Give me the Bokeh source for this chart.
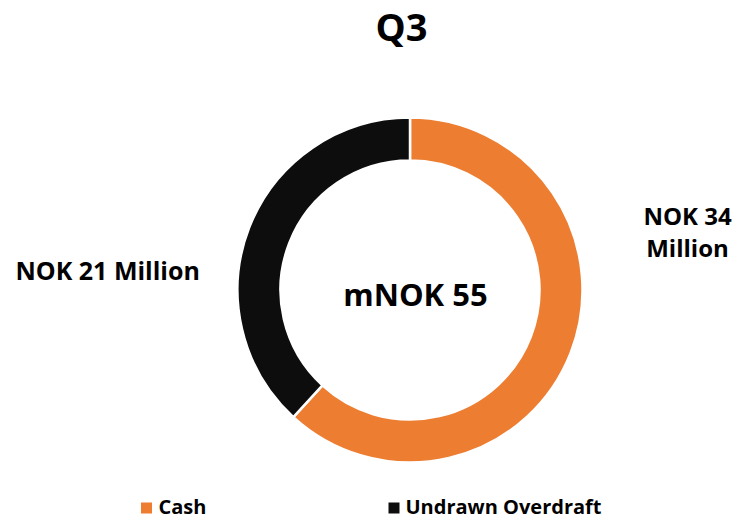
from bokeh.plotting import figure
from bokeh.models import Range1d, ColumnDataSource
from bokeh.core.properties import value
from bokeh.embed import file_html
from bokeh.resources import INLINE
import math

# ---- data ----
categories = ["Cash", "Undrawn Overdraft"]
values = [34, 21]
colors = ["#ED7D31", "#0D0D0D"]
slice_labels = ["NOK 34\nMillion", "NOK 21 Million"]
title_text = "Q3"
center_text = "mNOK 55"

FONT = "Open Sans"
W, H = 736, 519
SHIFT = 0.38  # baseline correction in em

p = figure(width=W, height=H, output_backend="svg", toolbar_location=None,
           x_range=Range1d(0, W), y_range=Range1d(0, H), min_border=0)
p.axis.visible = False
p.grid.visible = False
p.outline_line_color = None
p.background_fill_color = "white"

# donut geometry (1 data unit = 1 px)
cx, cy = 409.5, 229.5
r_out, r_in = 172.5, 129.5

total = sum(values)
starts, ends = [], []
acc = 0.0
for v in values:
    a0 = math.pi / 2 - 2 * math.pi * acc / total
    acc += v
    a1 = math.pi / 2 - 2 * math.pi * acc / total
    starts.append(a0)
    ends.append(a1)

src = ColumnDataSource(dict(cat=categories, val=values, color=colors,
                            start=starts, end=ends))
p.annular_wedge(x=cx, y=cy, inner_radius=r_in, outer_radius=r_out,
                start_angle="start", end_angle="end", direction="clock",
                fill_color="color", line_color="white", line_width=2.5,
                source=src)

def txt(x, y, s, size, align="left"):
    p.text(x=[x], y=[y + SHIFT * size], text=[s], text_font=value(FONT),
           text_font_style="bold", text_font_size=f"{size}px", text_align=align,
           text_baseline="alphabetic", text_color="black")

# title
txt(401, 479, title_text, 38, "center")

# center label
txt(415, 213.5, center_text, 31, "center")

# slice labels
lines = slice_labels[0].split("\n")
txt(687, 294.5, lines[0], 24, "center")
txt(687, 263, lines[1], 24, "center")
txt(15, 240, slice_labels[1], 25, "left")

# legend
leg_sq_x = [146, 393.5]
leg_txt_x = [158, 405]
p.scatter(x=leg_sq_x, y=[11.5, 11.5], marker="square", size=11,
          fill_color=colors, line_color=None)
lsize = 20
p.text(x=leg_txt_x, y=[5 + SHIFT * lsize] * 2, text=categories,
       text_font=value(FONT), text_font_style="bold", text_font_size=f"{lsize}px",
       text_align="left", text_baseline="alphabetic", text_color="black")

open("out.html", "w").write(file_html(p, INLINE))
